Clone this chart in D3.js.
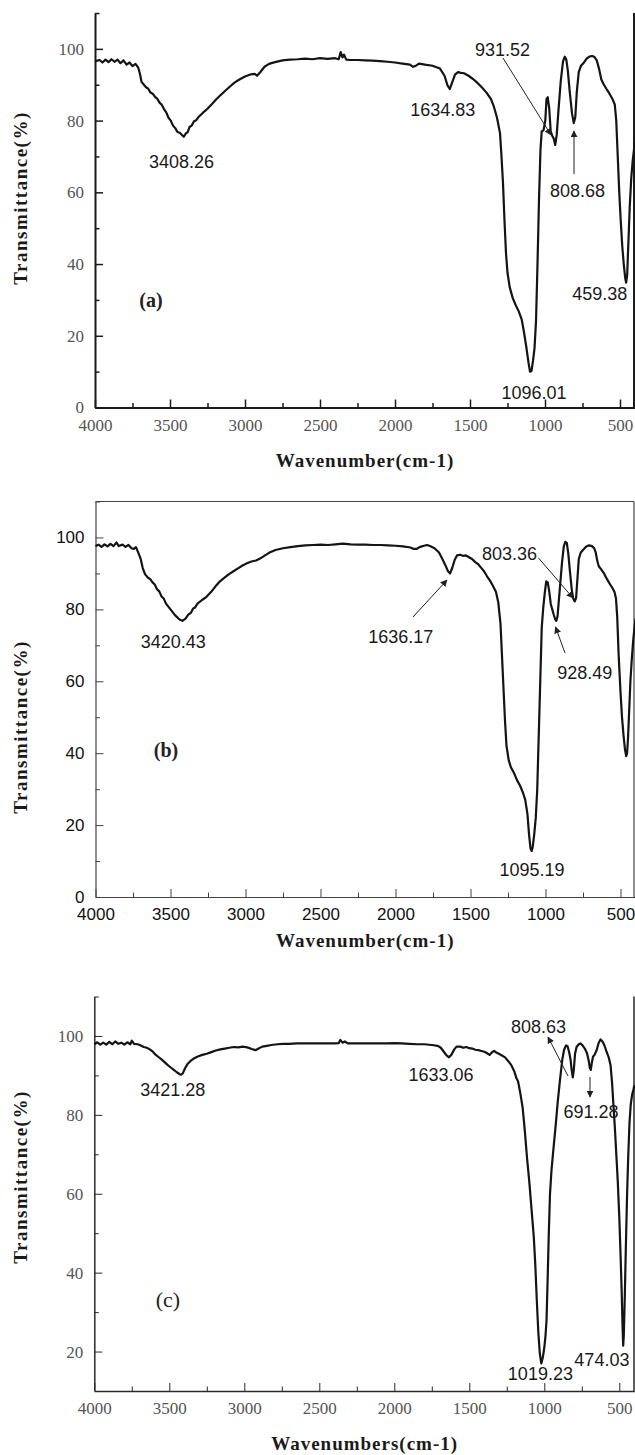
<!DOCTYPE html>
<html>
<head>
<meta charset="utf-8">
<script src="https://cdn.jsdelivr.net/npm/d3@7"></script>
<style>
  body { margin: 0; background: #fff; }
  svg { display: block; }
</style>
</head>
<body>
<div id="chart"></div>
<script>
// tick values
const xMajor = [4000, 3500, 3000, 2500, 2000, 1500, 1000, 500];
const xMinor = [3750, 3250, 2750, 2250, 1750, 1250, 750];
const yMajorAB = [0, 20, 40, 60, 80, 100];
const yMinorAB = [10, 30, 50, 70, 90, 110];
const yMajorC = [20, 40, 60, 80, 100];
const yMinorC = [30, 50, 70, 90, 110];

// spectra, [wavenumber, transmittance %]
const specA = [
  [4000, 96.5], [3970, 96.9], [3950, 96.2], [3930, 97.0], [3910, 96.3], [3890, 97.1], [3870, 96.4],
  [3850, 97.0], [3830, 96.0], [3810, 96.8], [3790, 95.6], [3770, 96.2], [3750, 95.2], [3730, 95.8],
  [3712, 94.8], [3700, 93.0], [3690, 90.8], [3660, 89.3], [3645, 88.9], [3630, 87.8], [3615, 87.5],
  [3600, 86.6], [3585, 86.1], [3570, 85.0], [3555, 84.4], [3540, 83.2], [3525, 82.3], [3510, 80.8],
  [3495, 80.0], [3480, 78.6], [3465, 77.9], [3450, 76.8], [3435, 76.6], [3420, 76.0], [3408, 75.5],
  [3395, 76.4], [3382, 76.8], [3370, 78.2], [3355, 78.6], [3340, 79.8], [3325, 80.1], [3310, 81.0],
  [3280, 82.2], [3250, 83.3], [3220, 84.6], [3190, 86.0], [3160, 87.2], [3130, 88.4], [3100, 89.5],
  [3070, 90.6], [3040, 91.4], [3000, 92.3], [2960, 92.9], [2935, 93.0], [2920, 92.5], [2900, 93.4],
  [2870, 95.0], [2840, 95.8], [2800, 96.3], [2750, 96.8], [2700, 97.0], [2650, 97.1], [2600, 97.3],
  [2550, 97.1], [2500, 97.4], [2450, 97.2], [2400, 97.4], [2375, 97.1], [2362, 99.1], [2350, 97.6],
  [2340, 98.4], [2325, 97.0], [2300, 96.9], [2250, 96.9], [2200, 96.8], [2150, 96.7], [2100, 96.6],
  [2050, 96.4], [2000, 96.2], [1950, 95.9], [1900, 95.6], [1880, 95.0], [1860, 95.3], [1840, 95.9],
  [1800, 95.6], [1750, 95.3], [1700, 94.5], [1670, 92.5], [1650, 89.8], [1635, 88.8], [1620, 90.5],
  [1600, 92.8], [1580, 93.5], [1560, 93.3], [1540, 93.2], [1510, 92.5], [1480, 91.6], [1450, 90.5],
  [1420, 89.2], [1390, 87.8], [1360, 86.0], [1340, 83.8], [1320, 80.8], [1300, 76.5], [1290, 70.0],
  [1280, 62.5], [1270, 52.0], [1260, 43.0], [1250, 37.5], [1235, 33.5], [1215, 30.5], [1195, 28.5],
  [1175, 26.8], [1155, 24.5], [1140, 21.0], [1125, 17.0], [1110, 12.5], [1100, 10.0], [1090, 10.2],
  [1080, 13.0], [1070, 16.5], [1060, 24.0], [1050, 40.0], [1040, 58.0], [1030, 72.0], [1022, 77.0],
  [1010, 77.3], [998, 80.0], [990, 86.0], [982, 86.5], [972, 83.5], [962, 77.0], [952, 75.8],
  [942, 75.0], [932, 73.2], [922, 76.0], [910, 83.0], [895, 91.0], [880, 96.5], [868, 97.8],
  [858, 97.0], [848, 94.0], [835, 88.0], [820, 82.0], [808, 79.3], [798, 81.0], [788, 88.0],
  [775, 93.5], [760, 95.3], [740, 96.2], [720, 97.4], [700, 97.9], [685, 98.0], [670, 97.7],
  [655, 96.8], [640, 94.5], [625, 91.5], [610, 90.2], [590, 88.8], [570, 87.5], [550, 86.0],
  [535, 84.5], [525, 80.0], [515, 70.0], [505, 60.0], [495, 52.0], [485, 45.0], [475, 40.0],
  [465, 36.0], [459, 34.8], [452, 37.0], [445, 45.0], [435, 56.0], [425, 64.0], [415, 69.0],
  [405, 72.5], [400, 74.0]
];

const specB = [
  [4000, 97.6], [3980, 98.0], [3960, 97.4], [3940, 98.1], [3920, 97.5], [3900, 98.2], [3880, 97.6],
  [3860, 98.6], [3845, 97.6], [3820, 98.0], [3800, 97.4], [3780, 97.9], [3760, 97.0], [3745, 96.8],
  [3730, 97.3], [3715, 95.8], [3700, 94.2], [3685, 91.5], [3670, 89.8], [3650, 88.8], [3635, 88.4],
  [3620, 87.5], [3605, 86.9], [3590, 85.6], [3575, 85.0], [3560, 83.6], [3545, 83.0], [3530, 81.6],
  [3500, 80.0], [3470, 78.4], [3440, 77.2], [3420, 76.8], [3400, 77.4], [3380, 78.6], [3365, 79.0],
  [3350, 80.2], [3335, 80.6], [3320, 81.6], [3290, 82.6], [3260, 83.5], [3230, 84.8], [3200, 86.4],
  [3170, 87.8], [3140, 88.8], [3110, 89.8], [3080, 90.6], [3050, 91.4], [3020, 92.2], [2990, 92.8],
  [2960, 93.3], [2930, 93.6], [2900, 94.2], [2870, 95.0], [2840, 95.8], [2800, 96.5], [2750, 97.0],
  [2700, 97.3], [2650, 97.6], [2600, 97.8], [2550, 97.9], [2500, 98.0], [2450, 97.9], [2400, 98.1],
  [2350, 98.3], [2300, 98.1], [2250, 98.0], [2200, 98.0], [2150, 97.9], [2100, 97.9], [2050, 97.8],
  [2000, 97.7], [1950, 97.5], [1900, 97.2], [1880, 96.8], [1860, 96.8], [1840, 97.3], [1810, 97.7],
  [1790, 97.9], [1770, 97.6], [1740, 97.0], [1710, 95.8], [1690, 94.2], [1670, 92.5], [1650, 90.6],
  [1636, 90.0], [1622, 91.5], [1605, 93.8], [1590, 95.0], [1570, 95.2], [1550, 94.9], [1530, 95.0],
  [1510, 94.5], [1490, 94.0], [1470, 93.2], [1450, 92.6], [1430, 91.6], [1410, 90.6], [1390, 89.2],
  [1370, 88.0], [1350, 86.5], [1330, 84.8], [1315, 82.0], [1300, 76.0], [1290, 67.0], [1280, 58.0],
  [1270, 49.0], [1260, 42.0], [1245, 38.0], [1230, 36.0], [1210, 34.5], [1190, 32.5], [1170, 31.0],
  [1150, 29.0], [1135, 27.0], [1120, 23.0], [1110, 17.5], [1100, 13.5], [1092, 12.8], [1085, 14.0],
  [1075, 17.5], [1065, 22.0], [1055, 30.0], [1045, 45.0], [1035, 60.0], [1025, 75.0], [1015, 80.5],
  [1005, 84.5], [995, 87.8], [985, 87.5], [975, 85.0], [965, 81.5], [955, 80.0], [945, 78.5],
  [935, 77.2], [928, 76.8], [920, 78.0], [910, 83.0], [900, 88.0], [890, 93.0], [878, 97.5],
  [868, 98.8], [858, 98.5], [848, 95.5], [838, 91.0], [825, 85.5], [815, 83.0], [805, 82.2],
  [796, 83.2], [788, 88.0], [778, 94.0], [765, 95.8], [750, 96.5], [730, 97.4], [710, 97.8],
  [690, 97.6], [675, 97.0], [665, 95.8], [655, 93.5], [645, 92.0], [630, 91.2], [610, 90.0],
  [590, 88.4], [570, 87.0], [555, 86.0], [540, 84.8], [530, 83.0], [522, 78.0], [512, 67.0],
  [500, 57.0], [490, 50.0], [480, 45.0], [470, 41.0], [462, 39.2], [456, 40.0], [450, 44.0],
  [442, 52.0], [434, 60.0], [425, 66.0], [415, 71.5], [405, 75.5], [400, 77.5]
];

const specC = [
  [4000, 97.9], [3980, 98.4], [3960, 97.8], [3940, 98.3], [3920, 97.8], [3900, 98.5], [3880, 97.9],
  [3860, 98.6], [3840, 98.0], [3820, 98.3], [3800, 97.8], [3780, 98.4], [3760, 97.9], [3750, 98.8],
  [3735, 98.0], [3710, 97.9], [3690, 97.6], [3670, 97.2], [3650, 97.0], [3630, 96.6], [3610, 96.0],
  [3590, 95.2], [3570, 94.6], [3550, 94.0], [3530, 93.3], [3510, 92.6], [3490, 92.0], [3470, 91.4],
  [3450, 90.8], [3430, 90.3], [3421, 90.2], [3410, 90.5], [3395, 91.8], [3380, 92.8], [3360, 93.6],
  [3340, 94.2], [3310, 94.8], [3280, 95.2], [3250, 95.5], [3220, 95.9], [3190, 96.3], [3160, 96.6],
  [3130, 96.8], [3100, 97.0], [3070, 97.2], [3040, 97.1], [3010, 97.3], [2980, 97.1], [2950, 96.7],
  [2925, 96.4], [2905, 96.8], [2880, 97.3], [2850, 97.5], [2820, 97.7], [2780, 97.9], [2740, 98.0],
  [2700, 98.0], [2650, 98.1], [2600, 98.1], [2550, 98.1], [2500, 98.1], [2450, 98.1], [2400, 98.1],
  [2370, 98.2], [2360, 99.0], [2345, 98.3], [2330, 98.6], [2310, 98.1], [2250, 98.1], [2200, 98.1],
  [2150, 98.1], [2100, 98.1], [2050, 98.1], [2000, 98.2], [1950, 98.1], [1900, 98.0], [1850, 97.9],
  [1800, 97.9], [1750, 97.7], [1710, 97.5], [1690, 97.0], [1670, 96.0], [1650, 95.0], [1635, 94.6],
  [1620, 95.2], [1600, 96.6], [1585, 97.3], [1560, 97.3], [1540, 97.0], [1520, 97.2], [1500, 96.9],
  [1480, 96.8], [1460, 96.5], [1440, 96.4], [1420, 96.2], [1400, 96.0], [1380, 95.6], [1365, 95.2],
  [1350, 95.8], [1335, 96.2], [1320, 95.8], [1300, 95.4], [1280, 95.0], [1260, 94.5], [1240, 93.6],
  [1220, 92.6], [1200, 91.0], [1185, 89.2], [1175, 88.5], [1160, 85.5], [1145, 82.0], [1130, 76.0],
  [1115, 69.0], [1100, 63.0], [1085, 56.0], [1070, 49.0], [1060, 42.0], [1050, 33.0], [1040, 25.0],
  [1030, 19.5], [1020, 17.0], [1010, 18.5], [1000, 21.0], [992, 24.0], [985, 28.0], [978, 38.0],
  [970, 50.0], [962, 60.0], [952, 66.0], [940, 71.0], [925, 77.0], [910, 83.5], [895, 89.0],
  [880, 94.0], [868, 96.5], [855, 97.6], [845, 97.4], [835, 96.0], [825, 94.0], [818, 91.5],
  [810, 89.5], [803, 91.5], [795, 95.5], [785, 97.2], [770, 97.9], [760, 98.1], [745, 97.6],
  [730, 96.8], [715, 95.6], [703, 93.5], [696, 91.8], [690, 91.4], [684, 93.0], [675, 94.8],
  [665, 95.2], [650, 96.5], [638, 98.2], [625, 99.1], [612, 98.6], [600, 97.7], [585, 96.0],
  [570, 94.5], [558, 92.5], [548, 88.0], [540, 83.0], [530, 77.0], [520, 70.0], [510, 63.0],
  [500, 54.0], [492, 45.0], [484, 35.0], [478, 26.0], [474, 21.5], [470, 24.0], [464, 33.0],
  [456, 47.0], [448, 60.0], [440, 70.0], [432, 78.0], [424, 82.5], [415, 85.0], [405, 86.5],
  [400, 87.5]
];

// peak labels
const peaksA = ['3408.26', '1634.83', '931.52', '808.68', '459.38', '1096.01'];
const peaksB = ['3420.43', '1636.17', '803.36', '928.49', '1095.19'];
const peaksC = ['3421.28', '1633.06', '808.63', '691.28', '1019.23', '474.03'];

const width = 635;
const height = 1455;
const serif = '"Liberation Serif", "Times New Roman", serif';
const sans = '"Liberation Sans", Arial, sans-serif';

const svg = d3
  .select('#chart')
  .append('svg')
  .attr('width', width)
  .attr('height', height);

svg
  .append('defs')
  .append('marker')
  .attr('id', 'head')
  .attr('viewBox', '0 0 10 10')
  .attr('refX', 9)
  .attr('refY', 5)
  .attr('markerWidth', 7)
  .attr('markerHeight', 7)
  .attr('markerUnits', 'userSpaceOnUse')
  .attr('orient', 'auto')
  .append('path')
  .attr('d', 'M0,0L10,5L0,10z')
  .attr('fill', '#222');

// layout of the three panels
const panels = [
  {
    spec: specA, left: 95, top: 13, bottom: 407.5, yDomain: [0, 110],
    yMajor: yMajorAB, yMinor: yMinorAB, box: false,
    axisColor: '#1a1a1a', axisWidth: 2, tickFont: serif, tickColor: '#555', tickSize: 17,
    xTitle: 'Wavenumber(cm-1)', xTitleY: 460, yTitleY: 198,
    tag: '(a)', tagX: 151, tagY: 300, tagWeight: 'bold',
    labels: [[181.6, 162], [442.7, 110], [502.6, 50], [577.5, 190.7], [599.8, 294], [534, 392.6]],
    peaks: peaksA,
    arrows: [[503, 58, 551, 135], [574, 174, 574, 131]]
  },
  {
    spec: specB, left: 95.5, top: 501.5, bottom: 897, yDomain: [0, 110],
    yMajor: yMajorAB, yMinor: yMinorAB, box: true,
    axisColor: '#444', axisWidth: 1.2, tickFont: sans, tickColor: '#111', tickSize: 17,
    xTitle: 'Wavenumber(cm-1)', xTitleY: 940, yTitleY: 727,
    tag: '(b)', tagX: 166, tagY: 750, tagWeight: 'bold',
    labels: [[173.2, 642], [400.7, 637], [509.6, 554], [584.8, 672.7], [532, 869.3]],
    peaks: peaksB,
    arrows: [[413, 617, 447, 580], [538.5, 558, 573, 598], [565, 653, 555.5, 627]]
  },
  {
    spec: specC, left: 94.3, top: 996.5, bottom: 1391, yDomain: [10, 110],
    yMajor: yMajorC, yMinor: yMinorC, box: false,
    axisColor: '#2a2a2a', axisWidth: 1.5, tickFont: serif, tickColor: '#555', tickSize: 17,
    xTitle: 'Wavenumbers(cm-1)', xTitleY: 1443, yTitleY: 1177,
    tag: '(c)', tagX: 168, tagY: 1299, tagWeight: 'normal',
    labels: [[172.8, 1090], [441, 1075], [538.5, 1027], [591, 1112], [540.4, 1374], [601.9, 1360]],
    peaks: peaksC,
    arrows: [[568, 1076, 548, 1037], [590, 1077, 590, 1097]]
  }
];

const drawPanel = (p) => {
  const x = d3.scaleLinear().domain([4000, 400]).range([p.left, p.left + 540]);
  const y = d3.scaleLinear().domain(p.yDomain).range([p.bottom, p.top]);
  const right = Math.min(p.left + 540, 634);
  const fmt = d3.format('d');

  const g = svg.append('g');

  // x axis, ticks inward
  const gx = g
    .append('g')
    .attr('transform', `translate(0,${p.bottom})`)
    .call(
      d3.axisBottom(x).tickValues(xMajor).tickFormat(fmt)
        .tickSize(-8).tickSizeOuter(0).tickPadding(11)
    );
  g.append('g')
    .attr('transform', `translate(0,${p.bottom})`)
    .call(d3.axisBottom(x).tickValues(xMinor).tickSize(-4.5).tickSizeOuter(0).tickFormat(''))
    .select('.domain')
    .remove();

  // y axis
  const gy = g
    .append('g')
    .attr('transform', `translate(${p.left},0)`)
    .call(
      d3.axisLeft(y).tickValues(p.yMajor).tickFormat(fmt)
        .tickSize(-8).tickSizeOuter(0).tickPadding(11)
    );
  g.append('g')
    .attr('transform', `translate(${p.left},0)`)
    .call(d3.axisLeft(y).tickValues(p.yMinor).tickSize(-4.5).tickSizeOuter(0).tickFormat(''))
    .select('.domain')
    .remove();

  g.selectAll('.domain, .tick line')
    .attr('stroke', p.axisColor)
    .attr('stroke-width', p.axisWidth);
  g.selectAll('.tick line').attr('stroke-width', Math.max(1, p.axisWidth - 0.5));

  [gx, gy].forEach((a) =>
    a
      .selectAll('.tick text')
      .attr('font-family', p.tickFont)
      .attr('font-size', p.tickSize)
      .attr('fill', p.tickColor)
  );

  // frame
  g.append('line')
    .attr('x1', right).attr('x2', right)
    .attr('y1', p.top).attr('y2', p.bottom)
    .attr('stroke', p.axisColor)
    .attr('stroke-width', p.axisWidth);
  if (p.box) {
    g.append('line')
      .attr('x1', p.left).attr('x2', right)
      .attr('y1', p.top).attr('y2', p.top)
      .attr('stroke', p.axisColor)
      .attr('stroke-width', p.axisWidth);
  }

  // spectrum
  const line = d3
    .line()
    .x((d) => x(d[0]))
    .y((d) => y(d[1]));

  g.append('path')
    .datum(p.spec)
    .attr('d', line)
    .attr('fill', 'none')
    .attr('stroke', '#141414')
    .attr('stroke-width', 2.2)
    .attr('stroke-linejoin', 'round');

  // peak annotations
  g.selectAll('.peak')
    .data(p.peaks)
    .join('text')
    .attr('class', 'peak')
    .attr('x', (d, i) => p.labels[i][0])
    .attr('y', (d, i) => p.labels[i][1])
    .attr('dy', '0.35em')
    .attr('text-anchor', 'middle')
    .attr('font-family', sans)
    .attr('font-size', 18)
    .attr('fill', '#1a1a1a')
    .text((d) => d);

  g.selectAll('.arrow')
    .data(p.arrows)
    .join('line')
    .attr('class', 'arrow')
    .attr('x1', (d) => d[0])
    .attr('y1', (d) => d[1])
    .attr('x2', (d) => d[2])
    .attr('y2', (d) => d[3])
    .attr('stroke', '#222')
    .attr('stroke-width', 1)
    .attr('marker-end', 'url(#head)');

  // panel tag
  g.append('text')
    .attr('x', p.tagX)
    .attr('y', p.tagY)
    .attr('dy', '0.35em')
    .attr('text-anchor', 'middle')
    .attr('font-family', serif)
    .attr('font-size', p.tagWeight === 'bold' ? 20 : 22)
    .attr('font-weight', p.tagWeight)
    .attr('fill', '#222')
    .text(p.tag);

  // axis titles
  g.append('text')
    .attr('x', (p.left + 635) / 2)
    .attr('y', p.xTitleY)
    .attr('dy', '0.35em')
    .attr('text-anchor', 'middle')
    .attr('font-family', serif)
    .attr('font-size', 19)
    .attr('font-weight', 'bold')
    .attr('letter-spacing', 1)
    .attr('fill', '#1a1a1a')
    .text(p.xTitle);

  g.append('text')
    .attr('transform', `translate(20,${p.yTitleY}) rotate(-90)`)
    .attr('dy', '0.35em')
    .attr('text-anchor', 'middle')
    .attr('font-family', serif)
    .attr('font-size', 19)
    .attr('font-weight', 'bold')
    .attr('letter-spacing', 1.5)
    .attr('fill', '#1a1a1a')
    .text('Transmittance(%)');
};

panels.forEach(drawPanel);
</script>
</body>
</html>
